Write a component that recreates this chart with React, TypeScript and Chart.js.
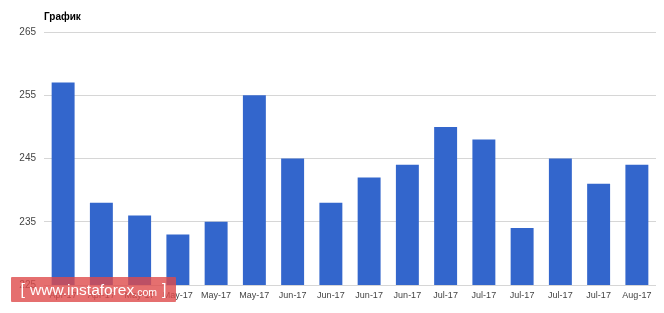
import React, { useEffect, useRef } from "react";
import { Chart, registerables } from "chart.js";

Chart.register(...registerables);

const TITLE = "График";
const categories = [
  "Apr-17", "Apr-17", "May-17", "May-17", "May-17", "May-17",
  "Jun-17", "Jun-17", "Jun-17", "Jun-17",
  "Jul-17", "Jul-17", "Jul-17", "Jul-17", "Jul-17", "Aug-17",
];
const values = [257, 238, 236, 233, 235, 255, 245, 238, 242, 244, 250, 248, 234, 245, 241, 244];
const yMin = 225;
const yMax = 265;
const yStep = 10;

const FONT = "'Liberation Sans', Arial, sans-serif";

const titlePlugin = {
  id: "leftTitle",
  afterDraw(chart: any) {
    const ctx = chart.ctx;
    ctx.save();
    ctx.font = `bold 10px ${FONT}`;
    ctx.fillStyle = "#000";
    ctx.textAlign = "left";
    ctx.textBaseline = "alphabetic";
    ctx.fillText(TITLE, chart.chartArea.left, 20);
    ctx.restore();
  },
};

export default function App() {
  const ref = useRef<HTMLCanvasElement | null>(null);
  useEffect(() => {
    if (!ref.current) return;
    const chart = new Chart(ref.current, {
      type: "bar",
      data: {
        labels: categories,
        datasets: [
          {
            data: values,
            backgroundColor: "#3366cc",
            borderWidth: 0,
            barPercentage: 0.6,
            categoryPercentage: 1,
          },
        ],
      },
      options: {
        animation: false,
        responsive: false,
        layout: { padding: { top: 32, right: 8, left: 0, bottom: 0 } },
        plugins: { legend: { display: false }, tooltip: { enabled: false }, title: { display: false } },
        scales: {
          x: {
            grid: { display: false, drawTicks: false },
            border: { display: false },
            ticks: {
              color: "#444",
              font: { family: FONT, size: 9 },
              padding: 5,
              maxRotation: 0,
              autoSkip: false,
            },
            afterFit(scale: any) {
              scale.height = 28;
            },
          },
          y: {
            min: yMin,
            max: yMax,
            grid: { color: "#d6d6d6", drawTicks: false },
            border: { display: false },
            ticks: {
              stepSize: yStep,
              color: "#444",
              font: { family: FONT, size: 10 },
              padding: 8,
            },
            afterFit(scale: any) {
              scale.width = 44;
            },
          },
        },
      },
      plugins: [titlePlugin],
    });
    return () => chart.destroy();
  }, []);

  return (
    <div style={{ position: "fixed", left: 0, top: 0, width: 664, height: 313, background: "#fff" }}>
      <canvas ref={ref} width={664} height={313} style={{ display: "block" }} />
      <div
        style={{
          position: "absolute",
          left: 11,
          top: 277,
          width: 165,
          height: 25,
          background: "rgba(222, 75, 75, 0.8)",
          color: "#fff",
          fontFamily: FONT,
          display: "flex",
          alignItems: "center",
          justifyContent: "center",
          whiteSpace: "nowrap",
          borderRadius: 1,
        }}
      >
        <span style={{ fontSize: 16, marginRight: 5 }}>[</span>
        <span style={{ fontSize: 15.5 }}>www.instaforex</span>
        <span style={{ fontSize: 10.5, marginTop: 4 }}>.com</span>
        <span style={{ fontSize: 16, marginLeft: 5 }}>]</span>
      </div>
    </div>
  );
}
